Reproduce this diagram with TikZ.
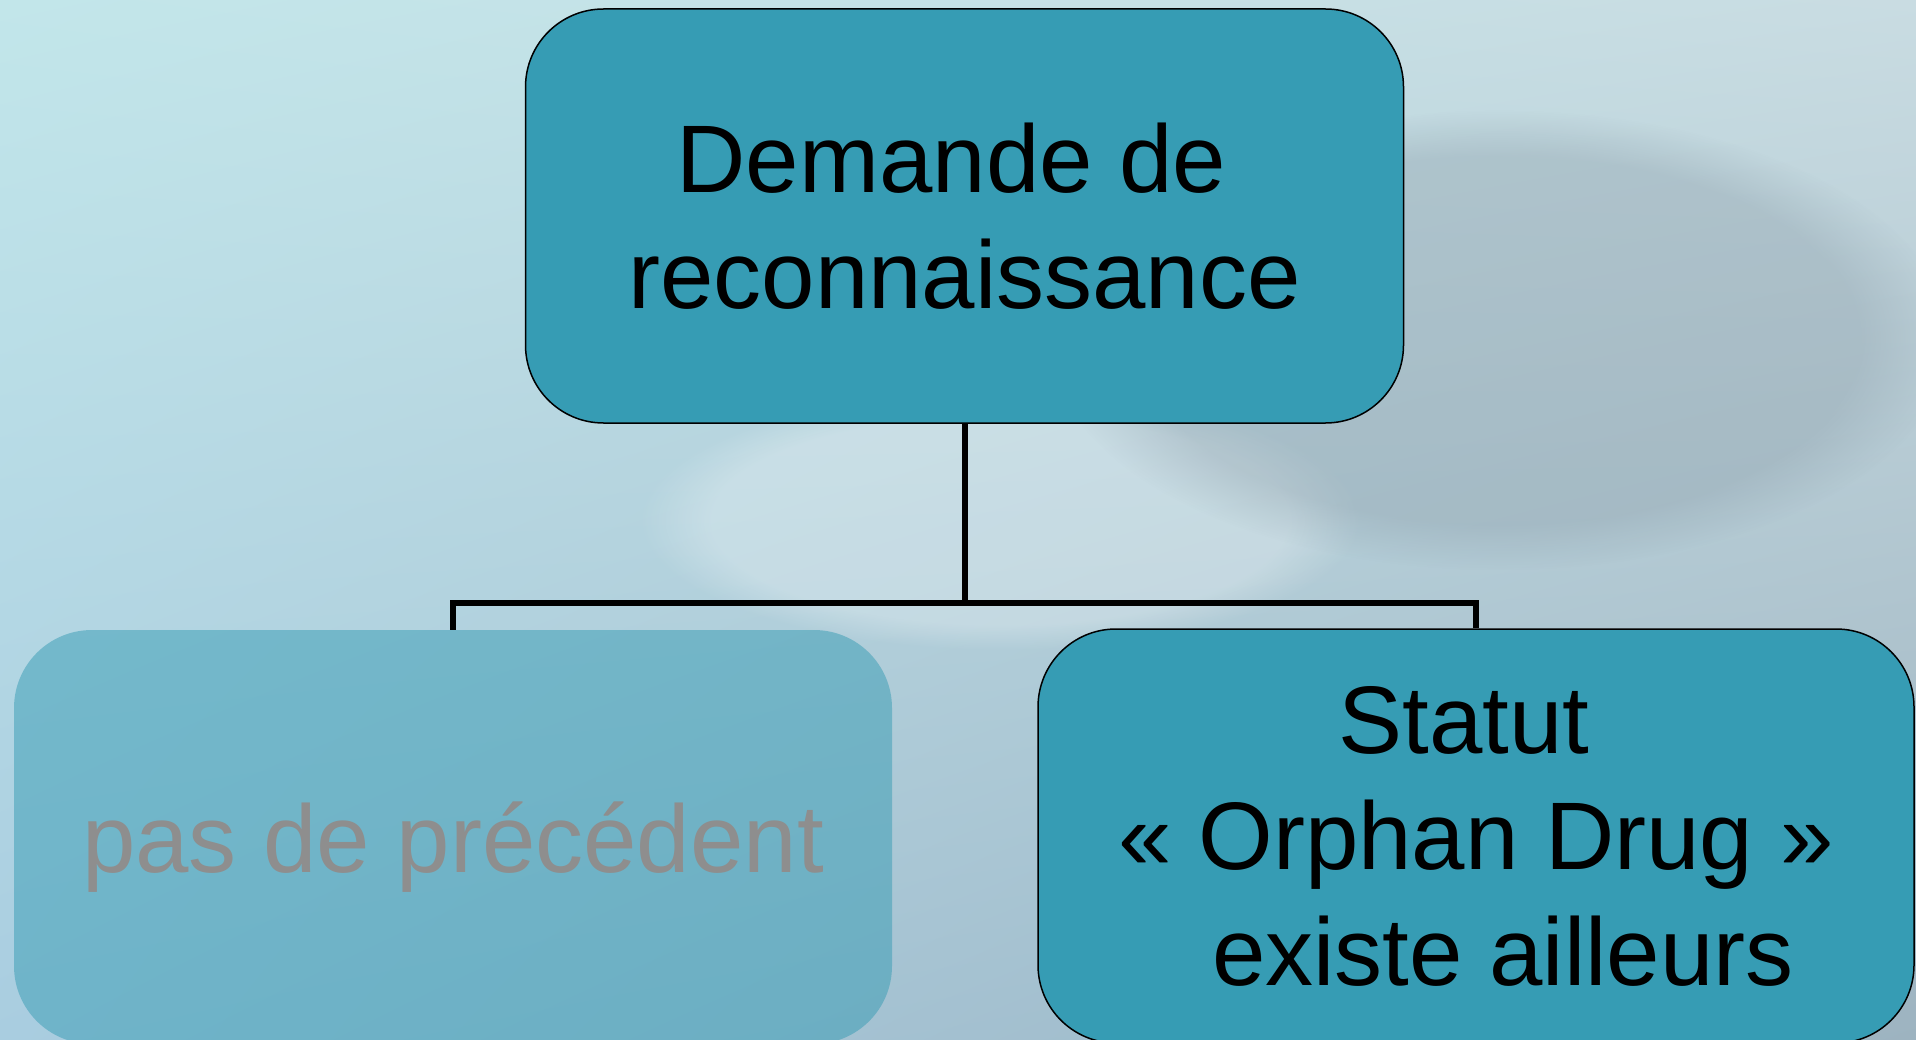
\documentclass[tikz,border=0pt]{standalone}
\usepackage{fontspec}
\setmainfont{Liberation Sans}
\usetikzlibrary{shadings,fadings}
\definecolor{boxteal}{HTML}{369CB4}
\definecolor{fadetext}{HTML}{8E8E8E}
\definecolor{bgA}{HTML}{C2E6EA}
\definecolor{bgB}{HTML}{C9DCE2}
\definecolor{bgC}{HTML}{A9CDE0}
\definecolor{bgD}{HTML}{9DB3C0}
\definecolor{blobgray}{HTML}{8A9CA8}
\begin{document}
\begin{tikzpicture}[x=1pt,y=-1pt,
  stepbox/.style={rounded corners=78pt, minimum width=878pt, minimum height=414pt,
    inner sep=0pt, align=center, text depth=0pt,
    font=\fontsize{96}{116}\selectfont},
  solidbox/.style={stepbox, fill=boxteal, draw=black, line width=1.5pt, text=black},
  ghostbox/.style={stepbox, fill=boxteal, fill opacity=0.5, text opacity=1, text=fadetext},
  link/.style={draw=black, line width=6pt}]
\useasboundingbox (0,0) rectangle (1916,1040);
\clip (0,0) rectangle (1916,1040);
% background
\shade[upper left=bgA, upper right=bgB, lower left=bgC, lower right=bgD] (0,0) rectangle (1916,1040);
\fill[white, path fading=circle with fuzzy edge 20 percent, opacity=0.25] (1000,520) ellipse (360 and 130);
\fill[blobgray, path fading=circle with fuzzy edge 20 percent, opacity=0.35] (1500,340) ellipse (450 and 230);
% nodes
\node[solidbox] (top) at (964.5,216) {Demande de\hspace*{26pt}\\reconnaissance};
\node[ghostbox] (left) at (453,837) {pas de précédent};
\node[solidbox, minimum width=876pt] (right) at (1476,836)
  {Statut\hspace*{24pt}\\« Orphan Drug »\\\hspace*{54pt}existe ailleurs};
% connectors
\coordinate (bus) at (0,603);
\draw[link] (top.south) -- (top.south |- bus) -| (left.north);
\draw[link] (top.south |- bus) -| (right.north);
\end{tikzpicture}
\end{document}
